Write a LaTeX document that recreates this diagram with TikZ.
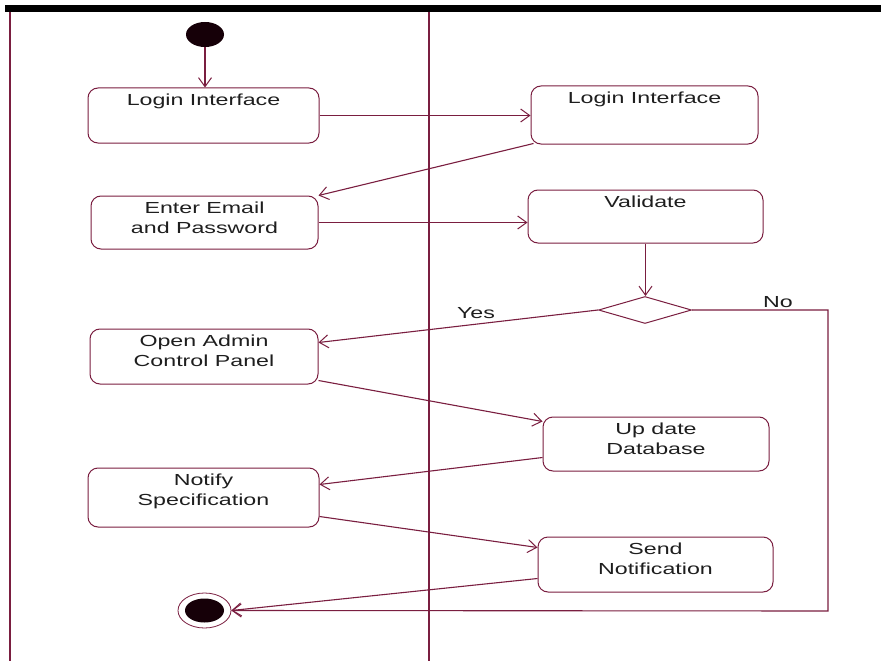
\documentclass[tikz,border=0pt]{standalone}
\usepackage{fontspec}
\setmainfont{Liberation Sans}[FakeStretch=1.45]
\usetikzlibrary{arrows.meta,shapes.geometric,calc}
\definecolor{umlline}{RGB}{122,30,64}
\definecolor{umltext}{RGB}{30,30,30}
\definecolor{umlfill}{RGB}{22,0,8}

\begin{document}
\begin{tikzpicture}[x=1pt,y=-1pt,
  actbox/.style={draw=umlline, line width=1pt, rounded corners=10pt, inner sep=0pt},
  acttext/.style={anchor=north, inner sep=0pt, align=center, text=umltext,
    font=\fontsize{16}{20}\selectfont, yshift=-6.3pt},
  guard/.style={inner sep=0pt, text=umltext, font=\fontsize{16}{20}\selectfont},
  flow/.style={draw=umlline, line width=1.1pt, -{Straight Barb[length=9pt,width=13pt,line width=1pt]}},
  lane/.style={draw=umlline, line width=1.4pt},
  startnode/.style={ellipse, fill=umlfill, inner sep=0pt, minimum width=38pt, minimum height=25pt},
  endring/.style={ellipse, draw=umlline, line width=0.8pt, inner sep=0pt, minimum width=53pt, minimum height=35pt},
  enddot/.style={ellipse, fill=umlfill, inner sep=0pt, minimum width=39pt, minimum height=24pt},
  decision/.style={diamond, draw=umlline, line width=1pt, inner sep=0pt, minimum width=93pt, minimum height=27pt}
]
\useasboundingbox (0,0) rectangle (881,661);
\fill[white] (0,0) rectangle (881,661);

% swimlane frame
\fill[black] (5,5) rectangle (881,12.5);
\draw[lane] (10,12.5) -- (10,661);
\draw[lane] (429,12.5) -- (429,661);

% initial and final nodes
\node[startnode] (start) at (205,34.5) {};
\node[endring] (fin) at (204.5,610.5) {};
\node[enddot] (findot) at (fin.center) {};

% activities
\node[actbox, minimum width=231pt, minimum height=55pt] (li1) at (203.5,115.5) {};
\node[actbox, minimum width=227pt, minimum height=58pt] (li2) at (644.5,115) {};
\node[actbox, minimum width=227pt, minimum height=53pt] (ee) at (204.5,222.5) {};
\node[actbox, minimum width=235pt, minimum height=53pt] (val) at (645.5,216.5) {};
\node[actbox, minimum width=228pt, minimum height=55pt] (oacp) at (204,356.5) {};
\node[actbox, minimum width=226pt, minimum height=54pt] (ud) at (656,444) {};
\node[actbox, minimum width=231pt, minimum height=59pt] (notify) at (203.5,497.5) {};
\node[actbox, minimum width=235pt, minimum height=55pt] (sn) at (655.5,564.5) {};

\node[acttext] (li1t) at (li1.north) {Login Interface};
\node[acttext] (li2t) at (li2.north) {Login Interface};
\node[acttext] (eet) at (ee.north) {Enter Email\\and Password};
\node[acttext] (valt) at (val.north) {Validate};
\node[acttext] (oacpt) at (oacp.north) {Open Admin\\Control Panel};
\node[acttext] (udt) at (ud.north) {Up date\\Database};
\node[acttext] (notifyt) at (notify.north) {Notify\\Specification};
\node[acttext] (snt) at (sn.north) {Send\\Notification};

% decision
\node[decision] (dia) at (645,310) {};
\coordinate (nobend) at (828,611);

% flows
\draw[flow] (start) -- (start |- li1.north);
\draw[flow] (li1.east) -- (li1.east -| li2.west);
\draw[flow] ($(li2.south west)+(3,-1)$) -- (ee.north east);
\draw[flow] (ee.east) -- (ee.east -| val.west);
\draw[flow] (val.south) -- (val.south |- dia.north);
\draw[flow] (dia.west) -- ($(oacp.north east)+(0,14)$);
\draw[flow] (dia.east) -| (nobend) -- (fin.east);
\draw[flow] ($(oacp.south east)+(0,-4)$) -- ($(ud.north west)+(0,5)$);
\draw[flow] ($(ud.south west)+(0,-14)$) -- ($(notify.north east)+(0,17)$);
\draw[flow] ($(notify.south east)+(0,-11)$) -- ($(sn.north west)+(0,11)$);
\draw[flow] ($(sn.south west)+(0,-14)$) -- (fin.east);

% guards
\node[guard] (yes) at (476,313) {Yes};
\node[guard] (no) at (778,302) {No};
\end{tikzpicture}
\end{document}
